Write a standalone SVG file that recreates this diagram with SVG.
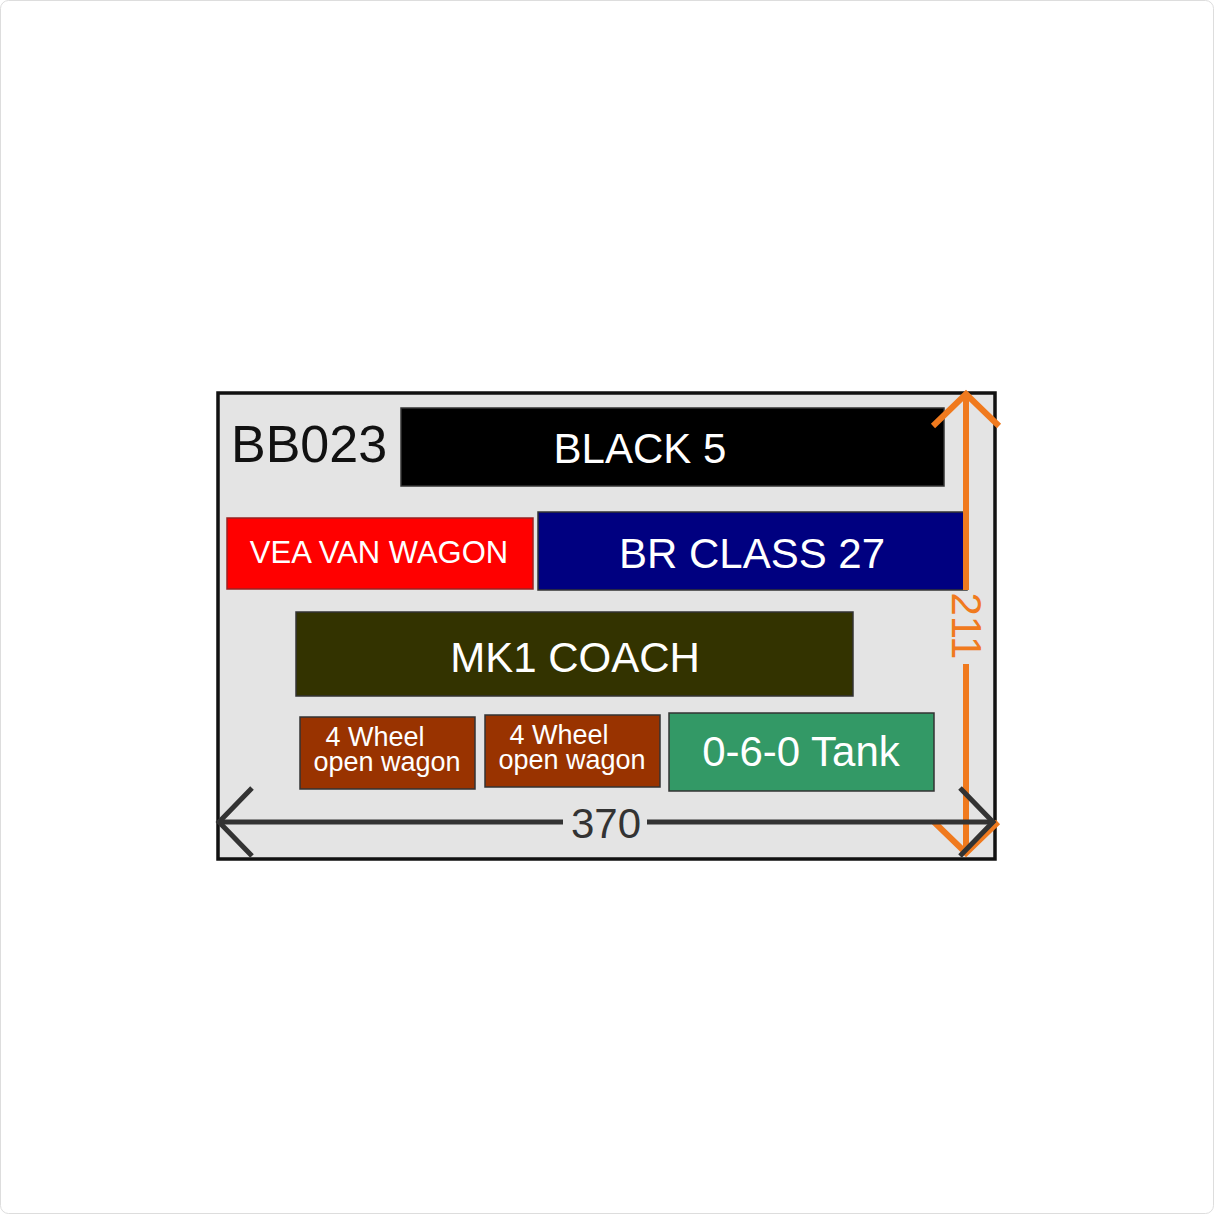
<svg xmlns="http://www.w3.org/2000/svg" width="1214" height="1214" viewBox="0 0 1214 1214">
<defs>
<style>
.box{stroke:#333;stroke-width:1.5}
.lbl{font-family:"Liberation Sans",Arial,sans-serif;fill:#fff}
.dimG{stroke:#333;stroke-width:5;fill:none;stroke-linecap:butt}
.dimO{stroke:#f07a1e;stroke-width:6;fill:none}
</style>
</defs>
<rect x="0.5" y="0.5" width="1213" height="1213" rx="8" fill="#fff" stroke="#ddd" stroke-width="1"/>
<g id="frame">
<rect x="218" y="393" width="777" height="466" fill="#e4e4e4" stroke="#111" stroke-width="3.5"/>
<text x="231" y="462" font-family="'Liberation Sans',Arial,sans-serif" font-size="52" fill="#111">BB023</text>
</g>
<g id="black5">
<rect class="box" x="401" y="408" width="543" height="78" fill="#000"/>
<text class="lbl" x="640" y="463" font-size="42" text-anchor="middle">BLACK 5</text>
</g>
<g id="vea">
<rect x="227" y="518" width="306" height="71" fill="#ff0000" stroke="#992222" stroke-width="1.5"/>
<text class="lbl" x="379" y="563" font-size="31" text-anchor="middle">VEA VAN WAGON</text>
</g>
<g id="class27">
<rect class="box" x="538" y="512" width="429" height="78" fill="#000080"/>
<text class="lbl" x="752" y="568" font-size="42" text-anchor="middle">BR CLASS 27</text>
</g>
<g id="mk1">
<rect class="box" x="296" y="612" width="557" height="84" fill="#333300"/>
<text class="lbl" x="575" y="672" font-size="42" text-anchor="middle">MK1 COACH</text>
</g>
<g id="wagon1">
<rect class="box" x="300" y="717" width="175" height="72" fill="#993300"/>
<text class="lbl" font-size="27" text-anchor="middle"><tspan x="375" y="746">4 Wheel</tspan><tspan x="387" y="771">open wagon</tspan></text>
</g>
<g id="wagon2">
<rect class="box" x="485" y="715" width="175" height="72" fill="#993300"/>
<text class="lbl" font-size="27" text-anchor="middle"><tspan x="559" y="744">4 Wheel</tspan><tspan x="572" y="769">open wagon</tspan></text>
</g>
<g id="tank">
<rect class="box" x="669" y="713" width="265" height="78" fill="#339966"/>
<text class="lbl" x="801" y="766" font-size="42" text-anchor="middle">0-6-0 Tank</text>
</g>
<g id="connectors">
<g id="dim-height">
<line class="dimO" x1="966" y1="395" x2="966" y2="590"/>
<line class="dimO" x1="966" y1="664" x2="966" y2="852"/>
<polyline class="dimO" points="933,426 966,394 999,426"/>
<polyline class="dimO" points="934,822 966,853 998,822"/>
<text x="966" y="626" transform="rotate(90 966 626)" font-family="'Liberation Sans',Arial,sans-serif" font-size="42" fill="#f07a1e" text-anchor="middle" dominant-baseline="central">211</text>
</g>
<g id="dim-width">
<line class="dimG" x1="220" y1="822" x2="563" y2="822"/>
<line class="dimG" x1="647" y1="822" x2="993" y2="822"/>
<polyline class="dimG" points="252,788 219,822 252,856"/>
<polyline class="dimG" points="960,788 993,822 960,856"/>
<text x="606" y="838" font-family="'Liberation Sans',Arial,sans-serif" font-size="42" fill="#333" text-anchor="middle">370</text>
</g>
</g>
</svg>
